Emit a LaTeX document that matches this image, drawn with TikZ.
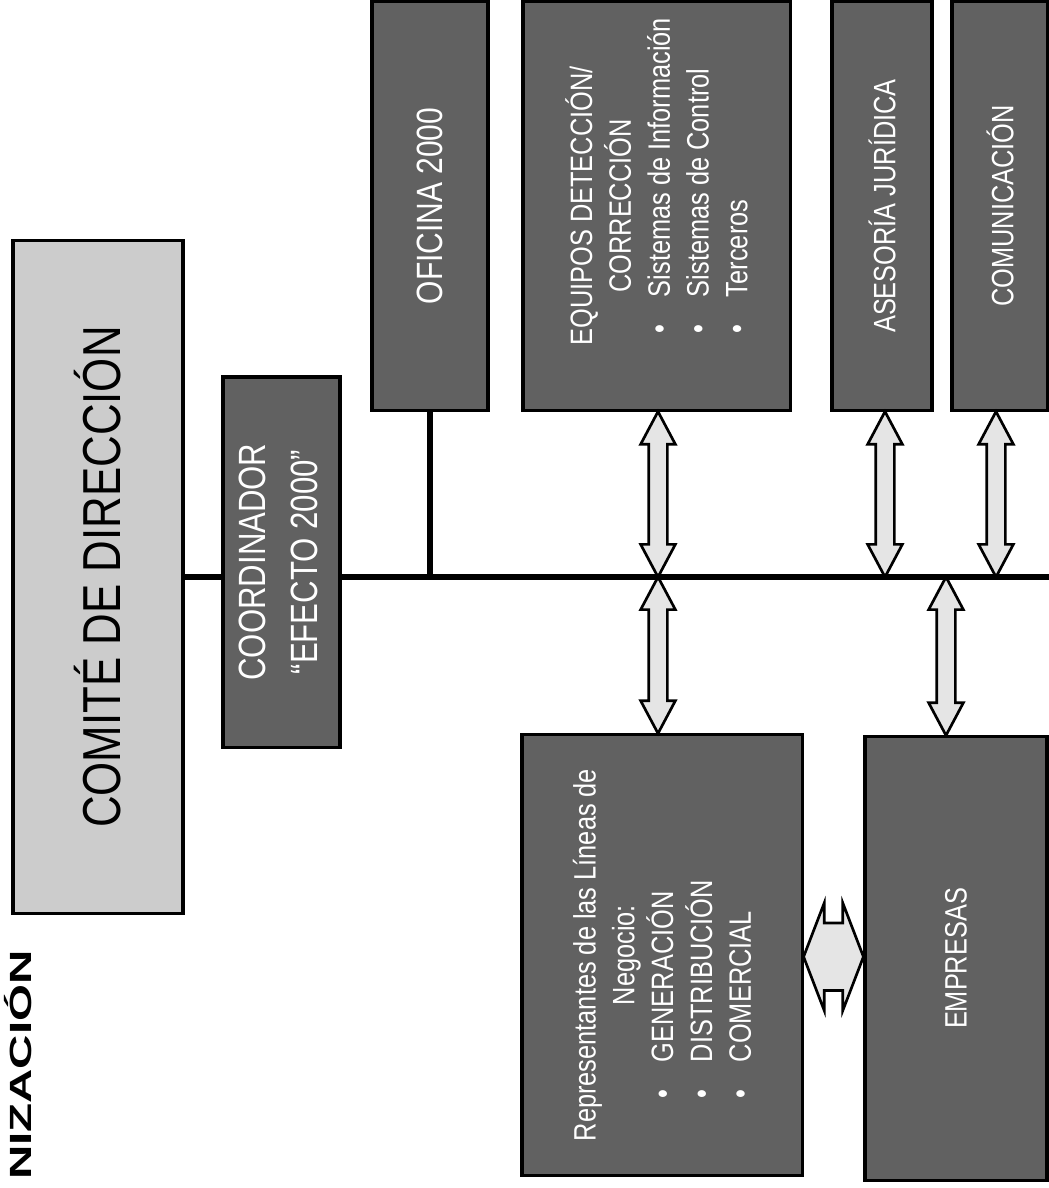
\documentclass[tikz,border=0pt]{standalone}
\usepackage{fontspec}
\setmainfont{Liberation Sans}[FakeStretch=0.82]
\newfontfamily\ttlfont{Liberation Sans}[FakeStretch=1.55]
\usepackage{graphicx}
\usetikzlibrary{shapes.arrows,calc}

\newcommand{\blt}{\makebox[0.9cm][l]{\textbullet}}

\begin{document}
\begin{tikzpicture}[x=0.025cm, y=-0.025cm,
    darkbox/.style={draw, line width=2.2pt, fill=black!62, text=white, inner sep=0pt},
    lightbox/.style={draw, line width=2.2pt, fill=black!20, inner sep=0pt},
    trunkline/.style={line width=4.2pt},
    dblarrow/.style={double arrow, draw, line width=1.9pt, fill=black!10, inner xsep=0pt, inner ysep=0.2cm,
        double arrow head extend=0.2cm, double arrow tip angle=56},
    fatarrow/.style={dblarrow, inner ysep=0.81cm, double arrow head extend=0.5cm, double arrow tip angle=138}]
    \useasboundingbox (0,0) rectangle (1049,1188);

    \node[anchor=north east, inner sep=0pt] (ttl) at (32,950) {\rotatebox{90}{\ttlfont\bfseries\fontsize{21.8}{24}\selectfont NIZACIÓN}};

    \node[lightbox, minimum width=4.25cm, minimum height=16.8cm] (cmt) at (98,577) {\rotatebox{90}{\fontsize{38}{40}\selectfont COMITÉ DE DIRECCIÓN}};

    % trunk
    \coordinate (tend) at (1049,577);
    \draw[trunkline] (cmt.east) -- (tend);

    \node[darkbox, minimum width=2.925cm, minimum height=9.25cm] (crd) at (281.5,562) {\rotatebox{90}{\fontsize{27}{37}\selectfont\begin{tabular}{@{}c@{}}COORDINADOR\\“EFECTO 2000”\end{tabular}}};

    % upper row
    \node[darkbox, minimum width=2.9cm, minimum height=10.2cm] (ofi) at (430,206) {\rotatebox{90}{\fontsize{26}{30}\selectfont OFICINA 2000}};
    \node[darkbox, minimum width=6.675cm, minimum height=10.2cm] (eqp) at (656.5,206) {\rotatebox{90}{\parbox{9.95cm}{\fontsize{22}{27.6}\selectfont
        \centering EQUIPOS DETECCIÓN/\\CORRECCIÓN\par
        \raggedright\leftskip=1.8cm
        \blt Sistemas de Información\\\blt Sistemas de Control\\\blt Terceros\par}}};
    \node[darkbox, minimum width=2.5cm, minimum height=10.2cm] (ase) at (882,206) {\rotatebox{90}{\fontsize{22}{26}\selectfont ASESORÍA JURÍDICA}};
    \node[darkbox, minimum width=2.4cm, minimum height=10.2cm] (cmn) at (1000,206) {\rotatebox{90}{\fontsize{22}{26}\selectfont COMUNICACIÓN}};

    % lower row
    \node[darkbox, minimum width=7cm, minimum height=11cm] (rep) at (662,955) {\rotatebox{90}{\parbox{10.75cm}{\fontsize{22}{27.6}\selectfont
        \centering Representantes de las Líneas de\\Negocio:\par
        \raggedright\leftskip=1.8cm
        \blt GENERACIÓN\\\blt DISTRIBUCIÓN\\\blt COMERCIAL\par}}};
    \node[darkbox, minimum width=4.55cm, minimum height=11.075cm] (emp) at (956,958.5) {\rotatebox{90}{\fontsize{22}{26}\selectfont EMPRESAS}};

    \draw[trunkline] (ofi.south) -- (ofi.south |- tend);

    \coordinate (v1) at (658,577);
    \coordinate (v2) at (885,577);
    \coordinate (v3) at (996,577);
    \coordinate (v4) at (946,577);
    \foreach \s/\t [count=\i] in {eqp.south/v1, ase.south/v2, cmn.south/v3, rep.north/v1, emp.north/v4}
        \path let \p1=(\t |- \s), \p2=(\t), \n1={abs(\y2-\y1)} in
            node[dblarrow, rotate=90, minimum height=\n1] (arw\i) at ($(\t |- \s)!.5!(\t)$) {};
    \path let \p1=(rep.east), \p2=(emp.west), \n1={\x2-\x1} in
        node[fatarrow, minimum height=\n1] (arwh) at ($(rep.east)!.5!(emp.west)$) {};
\end{tikzpicture}
\end{document}
